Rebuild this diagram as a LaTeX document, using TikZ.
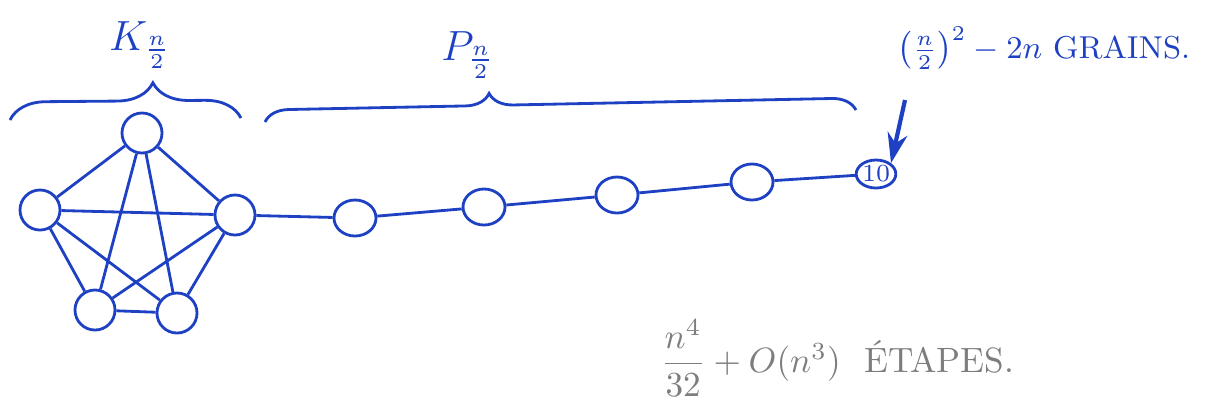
\documentclass[tikz,border=0pt]{standalone}
\usepackage{amsmath,amssymb}
\usepackage{xcolor}
\usetikzlibrary{positioning,shapes.geometric,decorations.pathreplacing,arrows.meta}
\definecolor{ink}{RGB}{30,65,195}
\definecolor{pencil}{RGB}{125,125,125}

\begin{document}
\begin{tikzpicture}[x=0.01cm,y=-0.01cm,
  vtx/.style={draw=ink, circle, thick, minimum size=0.4cm, inner sep=0pt},
  pvtx/.style={draw=ink, ellipse, thick, minimum width=0.42cm, minimum height=0.36cm, inner sep=0pt},
  link/.style={draw=ink, thick},
  brace/.style={draw=ink, thick, decorate, decoration={brace, amplitude=#1}},
  arrow/.style={-{Stealth[length=3mm,width=2mm]}, draw=ink, fill=ink, very thick},
  lbl/.style={text=ink, font=\large}
]
\useasboundingbox (0,0) rectangle (1213,405);

% complete graph
\node[vtx] (top) at (142,133) {};
\node[vtx] (left) at (40,210) {};
\node[vtx] (right) at (235,215) {};
\node[vtx] (botl) at (95,310) {};
\node[vtx] (botr) at (177,313) {};

\foreach \a/\b in {top/left,top/right,top/botl,top/botr,left/right,left/botl,left/botr,right/botl,right/botr,botl/botr}
  \draw[link] (\a) -- (\b);

% path
\node[pvtx] (p1) at (355,218) {};
\node[pvtx] (p2) at (484,207) {};
\node[pvtx] (p3) at (617,195) {};
\node[pvtx] (p4) at (752,182) {};
\node[pvtx, minimum width=0.32cm, minimum height=0.28cm, text=ink, font=\scriptsize] (last) at (876,174) {10};

\draw[link] (right) -- (p1) -- (p2) -- (p3) -- (p4) -- (last);

% braces
\coordinate (kl) at (10,120);
\coordinate (kr) at (241,118);
\coordinate (pl) at (265,122);
\coordinate (pr) at (856,110);
\draw[brace=0.36cm, decoration={aspect=0.62}] (kl) -- (kr);
\draw[brace=0.24cm, decoration={aspect=0.38}] (pl) -- (pr);

\node[lbl] (klbl) at (140,45) {$K_{\frac{n}{2}}$};
\node[lbl] (plbl) at (468,55) {$P_{\frac{n}{2}}$};

% grains
\node[lbl, font=\small, anchor=west] (grains) at (885,48) {$\left(\frac{n}{2}\right)^{2}-2n$ GRAINS.};
\coordinate (tail) at (905,100);
\draw[arrow] (tail) -- (last.north east);

% steps
\node[text=pencil, font=\normalsize, anchor=west] (steps) at (648,358) {$\dfrac{n^{4}}{32}+O(n^{3})$\ \ \'ETAPES.};
\end{tikzpicture}
\end{document}
